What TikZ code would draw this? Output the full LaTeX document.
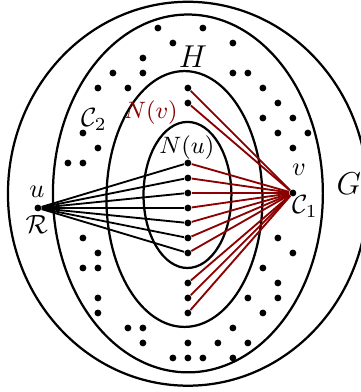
\documentclass[tikz,border=0pt]{standalone}
\usepackage{tikz}
\usetikzlibrary{positioning}
\usepackage{amsmath,amssymb}
\definecolor{nvcol}{RGB}{139,0,0}

\begin{document}
\begin{tikzpicture}[x=0.2cm, y=0.2cm,
    vtx/.style={circle, fill=black, inner sep=0pt, minimum size=2.6pt},
    ring/.style={draw, line width=0.85pt},
    uedge/.style={line width=0.7pt, black},
    vedge/.style={line width=0.7pt, nvcol},
]
\useasboundingbox (-12.53,-12.27) rectangle (11.53,13.87);

% nested regions
\draw[ring] (0,0.95) ellipse (12 and 12.8);
\draw[ring] (0,0.97) ellipse (9 and 11.93);
\draw[ring] (-0.23,0.6) ellipse (5.2 and 8.53);
\draw[ring] (-0.03,0.87) ellipse (2.93 and 4.87);

% the two vertices and their neighbourhoods
\node[vtx] (u) at (-10,0) {};
\node[vtx] (v) at (7,1) {};
\foreach \y [count=\i] in {3,2,...,-3}
  \node[vtx] (nu\i) at (0,\y) {};
\foreach \y [count=\i] in {8,7,-5,-6,-7}
  \node[vtx] (nv\i) at (0,\y) {};

% remaining vertices
\foreach \p [count=\i] in {(-2,12),(1,12),(-1,11),(3,11),(-3,10),(-5,9),(-3,9),(3,9),(4,9),
    (-6,8),(-4,8),(5,8),(6,7),(5,6),(7,6),(-7,5),(6,5),(8,5),(-6,4),(7,4),(-8,3),(-7,3),
    (-7,-2),(6,-2),(-6,-3),(7,-3),(-7,-4),(-6,-4),(5,-4),(6,-5),(-6,-6),(4,-6),(6,-6),
    (-6,-7),(5,-7),(-4,-8),(-3,-8),(3,-8),(-3,-9),(0,-9),(2,-9),(4,-9),
    (-1,-10),(0,-10),(1,-10),(3,-10)}
  \node[vtx] (w\i) at \p {};

% edges
\foreach \i in {1,...,7} {
  \draw[uedge] (u) -- (nu\i);
  \draw[vedge] (v) -- (nu\i);
}
\foreach \i in {1,...,5}
  \draw[vedge] (v) -- (nv\i);

% labels
\node (lH) at (0.33,10.07) {\large $H$};
\node (lG) at (10.73,1.6) {\large $G$};
\node (lC2) at (-6.27,5.93) {$\mathcal{C}_2$};
\node[text=nvcol] (lNv) at (-2.47,6.33) {\small $N(v)$};
\node (lNu) at (-0.07,4.0) {\small $N(u)$};
\node (lu) at (-10.07,1.07) {$u$};
\node (lR) at (-10.07,-1.07) {$\mathcal{R}$};
\node (lv) at (7.4,2.53) {$v$};
\node (lC1) at (7.8,0.07) {$\mathcal{C}_1$};
\end{tikzpicture}
\end{document}
